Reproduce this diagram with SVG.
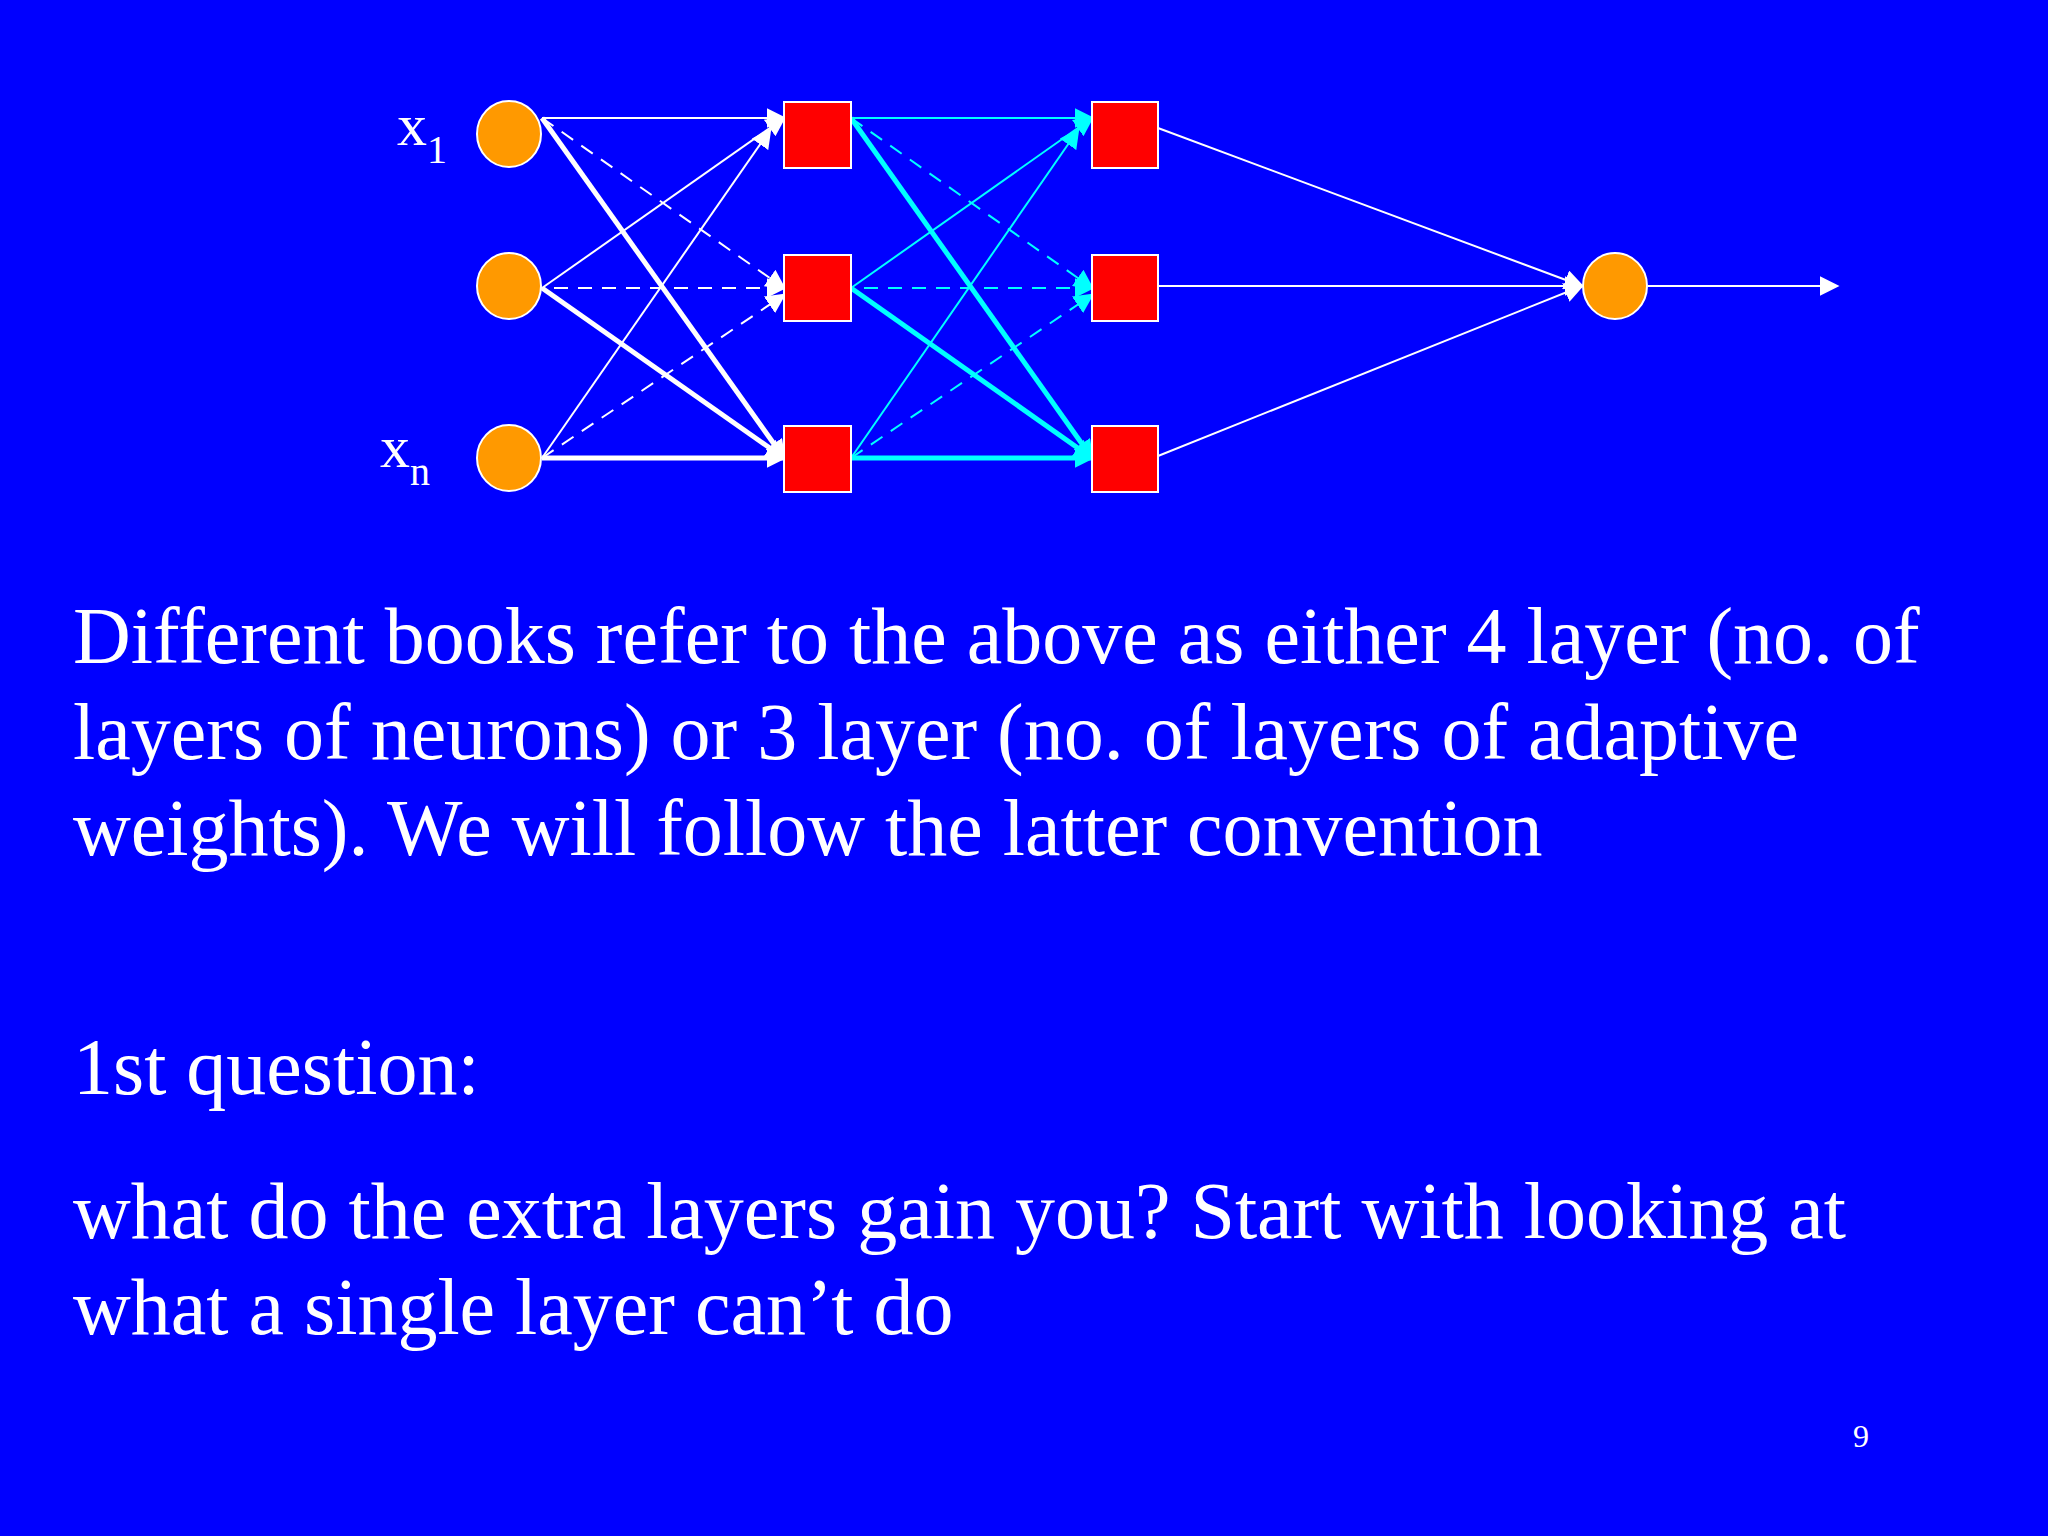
<svg xmlns="http://www.w3.org/2000/svg" width="2048" height="1536" viewBox="0 0 2048 1536">
<defs>
<style>
.w{stroke:#fff;fill:none}.c{stroke:#00ffff;fill:none}
.t1{stroke-width:2}.t2{stroke-width:5}.d{stroke-dasharray:14 10}
.inp{fill:#ff9900;stroke:#fff;stroke-width:2}
.sq{fill:#ff0000;stroke:#fff;stroke-width:2}
text{font-family:"Liberation Serif",serif;fill:#fff}
</style>
<marker id="aw2" viewBox="0 0 8 8" markerWidth="20" markerHeight="20" refX="7" refY="4" orient="auto" markerUnits="userSpaceOnUse"><path d="M0,0L8,4L0,8z" fill="#fff"/></marker>
<marker id="ac" viewBox="0 0 8 8" markerWidth="20" markerHeight="20" refX="7" refY="4" orient="auto" markerUnits="userSpaceOnUse"><path d="M0,0L8,4L0,8z" fill="#00ffff"/></marker>
</defs>
<rect width="2048" height="1536" fill="#0000ff"/>
<g id="connectors">
<line class="w t1" x1="542" y1="118" x2="784" y2="118" marker-end="url(#aw2)"/>
<line class="w t1 d" x1="542" y1="118" x2="784" y2="288" marker-end="url(#aw2)"/>
<line class="w t2" x1="542" y1="118" x2="784" y2="458" marker-end="url(#aw2)"/>
<line class="w t1" x1="542" y1="288" x2="784" y2="118" marker-end="url(#aw2)"/>
<line class="w t1 d" x1="530" y1="288" x2="784" y2="288" marker-end="url(#aw2)"/>
<line class="w t2" x1="542" y1="288" x2="784" y2="458" marker-end="url(#aw2)"/>
<line class="w t1" x1="542" y1="458" x2="770" y2="130" marker-end="url(#aw2)"/>
<line class="w t1 d" x1="542" y1="458" x2="784" y2="295" marker-end="url(#aw2)"/>
<line class="w t2" x1="542" y1="458" x2="784" y2="458" marker-end="url(#aw2)"/>
<line class="c t1" x1="851" y1="118" x2="1092" y2="118" marker-end="url(#ac)"/>
<line class="c t1 d" x1="851" y1="118" x2="1092" y2="288" marker-end="url(#ac)"/>
<line class="c t2" x1="851" y1="118" x2="1092" y2="458" marker-end="url(#ac)"/>
<line class="c t1" x1="851" y1="288" x2="1092" y2="118" marker-end="url(#ac)"/>
<line class="c t1 d" x1="840" y1="288" x2="1092" y2="288" marker-end="url(#ac)"/>
<line class="c t2" x1="851" y1="288" x2="1092" y2="458" marker-end="url(#ac)"/>
<line class="c t1" x1="851" y1="458" x2="1078" y2="130" marker-end="url(#ac)"/>
<line class="c t1 d" x1="851" y1="458" x2="1092" y2="295" marker-end="url(#ac)"/>
<line class="c t2" x1="851" y1="458" x2="1092" y2="458" marker-end="url(#ac)"/>
<line class="w t1" x1="1158" y1="128" x2="1582" y2="286" marker-end="url(#aw2)"/>
<line class="w t1" x1="1158" y1="286" x2="1582" y2="286" marker-end="url(#aw2)"/>
<line class="w t1" x1="1158" y1="456" x2="1582" y2="286" marker-end="url(#aw2)"/>
<line class="w t1" x1="1648" y1="286" x2="1837" y2="286" marker-end="url(#aw2)"/>
</g>
<g id="in1"><ellipse class="inp" cx="509" cy="134" rx="32" ry="33"/></g>
<g id="in2"><ellipse class="inp" cx="509" cy="286" rx="32" ry="33"/></g>
<g id="in3"><ellipse class="inp" cx="509" cy="458" rx="32" ry="33"/></g>
<g id="h1a"><rect class="sq" x="784" y="102" width="67" height="66"/></g>
<g id="h1b"><rect class="sq" x="784" y="255" width="67" height="66"/></g>
<g id="h1c"><rect class="sq" x="784" y="426" width="67" height="66"/></g>
<g id="h2a"><rect class="sq" x="1092" y="102" width="66" height="66"/></g>
<g id="h2b"><rect class="sq" x="1092" y="255" width="66" height="66"/></g>
<g id="h2c"><rect class="sq" x="1092" y="426" width="66" height="66"/></g>
<g id="out"><ellipse class="inp" cx="1615" cy="286" rx="32" ry="33"/></g>
<text x="397" y="145" font-size="60">x<tspan font-size="40" dy="18">1</tspan></text>
<text x="380" y="467" font-size="60">x<tspan font-size="40" dy="18">n</tspan></text>
<g font-size="80">
<text x="73" y="663">Different books refer to the above as either 4 layer (no. of</text>
<text x="73" y="759">layers of neurons) or 3 layer (no. of layers of adaptive</text>
<text x="73" y="855">weights). We will follow the latter convention</text>
<text x="73" y="1094">1st question:</text>
<text x="73" y="1238">what do the extra layers gain you? Start with looking at</text>
<text x="73" y="1334">what a single layer can’t do</text>
</g>
<text x="1853" y="1447" font-size="32">9</text>
</svg>
